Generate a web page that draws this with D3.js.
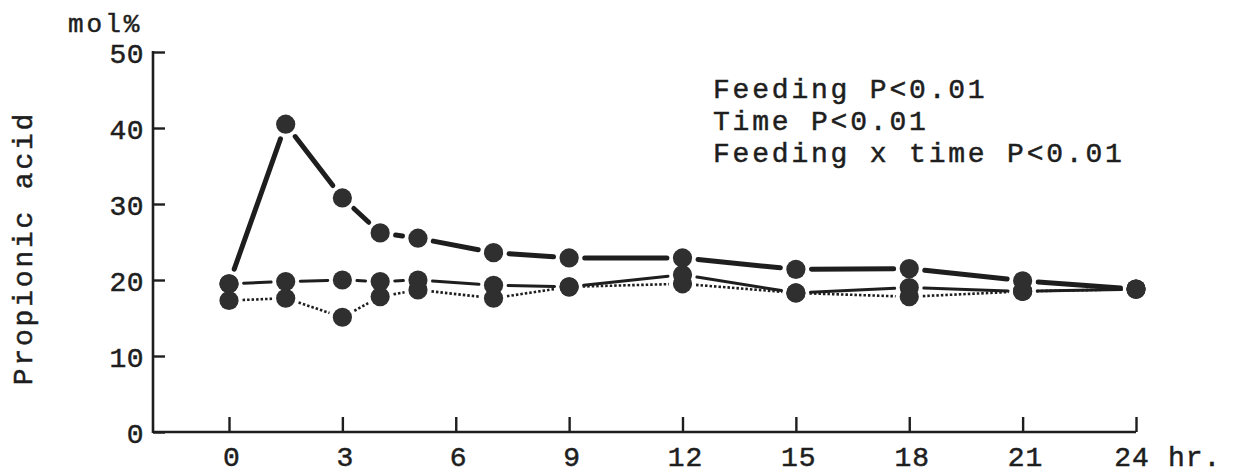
<!DOCTYPE html>
<html>
<head>
<meta charset="utf-8">
<script src="https://cdn.jsdelivr.net/npm/d3@7"></script>
<style>
  html, body { margin: 0; padding: 0; background: #fff; }
  svg { display: block; }
  text { font-family: "Liberation Mono", "DejaVu Sans Mono", monospace; fill: #1e1e1e; stroke: #1e1e1e; stroke-width: 0.5px; }
</style>
</head>
<body>
<svg id="chart" width="1234" height="474"></svg>
<script>
// Sampling times (hr) and propionic acid concentration (mol%) per feeding group
const times = [0, 1.5, 3, 4, 5, 7, 9, 12, 15, 18, 21, 24];
const groupA = [19.5, 40.5, 30.8, 26.2, 25.5, 23.6, 22.9, 22.9, 21.4, 21.5, 19.9, 18.8];
const groupB = [19.5, 19.8, 20.0, 19.8, 20.0, 19.3, 19.1, 20.7, 18.3, 19.0, 18.5, 18.8];
const groupC = [17.3, 17.6, 15.1, 17.8, 18.7, 17.6, 19.1, 19.5, 18.3, 17.8, 18.5, 18.8];

const xTicks = [0, 3, 6, 9, 12, 15, 18, 21, 24];
const yTicks = [0, 10, 20, 30, 40, 50];
const statLines = ["Feeding P<0.01", "Time P<0.01", "Feeding x time P<0.01"];

const svg = d3.select("#chart");
const ink = "#1e1e1e";
const dot = "#2f2f2f";

const x = d3.scaleLinear().domain([0, 24]).range([229, 1136]);
const y = d3.scaleLinear().domain([0, 50]).range([432, 52]);
const axisLeftX = 153;

// Axes: ticks point into the plot area
const xAxis = d3.axisBottom(x).tickValues(xTicks).tickSizeInner(-15).tickSizeOuter(0).tickFormat("");
const gx = svg.append("g").attr("transform", `translate(0,${y(0)})`).call(xAxis);
gx.select(".domain").remove();
gx.selectAll(".tick line").attr("stroke", ink).attr("stroke-width", 2.4);
svg.append("line")
  .attr("x1", axisLeftX).attr("x2", x(24))
  .attr("y1", y(0)).attr("y2", y(0))
  .attr("stroke", ink).attr("stroke-width", 2.6);

const yAxis = d3.axisLeft(y).tickValues(yTicks).tickSizeInner(-12).tickSizeOuter(0).tickFormat("");
const gy = svg.append("g").attr("transform", `translate(${axisLeftX},0)`).call(yAxis);
gy.select(".domain").remove();
gy.selectAll(".tick line").attr("stroke", ink).attr("stroke-width", 2.4);
svg.append("line")
  .attr("x1", axisLeftX).attr("x2", axisLeftX)
  .attr("y1", y(50) - 1).attr("y2", y(0) + 1)
  .attr("stroke", ink).attr("stroke-width", 2.6);

// Tick labels
svg.append("g").selectAll("text").data(xTicks).join("text")
  .attr("x", d => x(d) + (d === 24 ? -4 : 3))
  .attr("y", 466)
  .attr("text-anchor", "middle")
  .attr("font-size", 28)
  .attr("letter-spacing", 1)
  .text(d => d);

svg.append("text")
  .attr("x", 1168).attr("y", 466)
  .attr("font-size", 28)
  .attr("letter-spacing", 1)
  .text("hr.");

svg.append("g").selectAll("text").data(yTicks).join("text")
  .attr("x", 144)
  .attr("y", d => y(d) + 11)
  .attr("text-anchor", "end")
  .attr("font-size", 28)
  .attr("letter-spacing", 0.5)
  .text(d => d);

svg.append("text")
  .attr("x", 68).attr("y", 32)
  .attr("font-size", 26)
  .attr("letter-spacing", 3)
  .text("mol%");

svg.append("text")
  .attr("transform", "translate(32,248) rotate(-90)")
  .attr("text-anchor", "middle")
  .attr("font-size", 28)
  .attr("letter-spacing", 2.8)
  .text("Propionic acid");

// Statistics block
svg.append("g").selectAll("text").data(statLines).join("text")
  .attr("x", 713)
  .attr("y", (d, i) => 98 + i * 32)
  .attr("font-size", 28)
  .attr("letter-spacing", 2.8)
  .text(d => d);

// Series: segments stop short of each marker
const r = 9.6;
const series = [
  { vals: groupA, width: 5, dash: null, gap: 6 },
  { vals: groupB, width: 3, dash: null, gap: 5 },
  { vals: groupC, width: 2.6, dash: "2.5,2", gap: 4 }
];

const seg = d3.line();
series.forEach(s => {
  const pts = times.map((t, i) => [x(t), y(s.vals[i])]);
  const pieces = d3.pairs(pts).map(([a, b]) => {
    const dx = b[0] - a[0], dy = b[1] - a[1];
    const len = Math.hypot(dx, dy);
    const cut = r + s.gap;
    if (len <= 2 * cut) return null;
    const ux = dx / len, uy = dy / len;
    return [[a[0] + ux * cut, a[1] + uy * cut], [b[0] - ux * cut, b[1] - uy * cut]];
  }).filter(Boolean);
  svg.append("g").selectAll("path").data(pieces).join("path")
    .attr("d", seg)
    .attr("fill", "none")
    .attr("stroke", ink)
    .attr("stroke-width", s.width)
    .attr("stroke-linecap", s.dash ? "butt" : "round")
    .attr("stroke-dasharray", s.dash);
});

series.forEach(s => {
  svg.append("g").selectAll("circle").data(times.map((t, i) => [t, s.vals[i]])).join("circle")
    .attr("cx", d => x(d[0]))
    .attr("cy", d => y(d[1]))
    .attr("r", r)
    .attr("fill", dot);
});
</script>
</body>
</html>
